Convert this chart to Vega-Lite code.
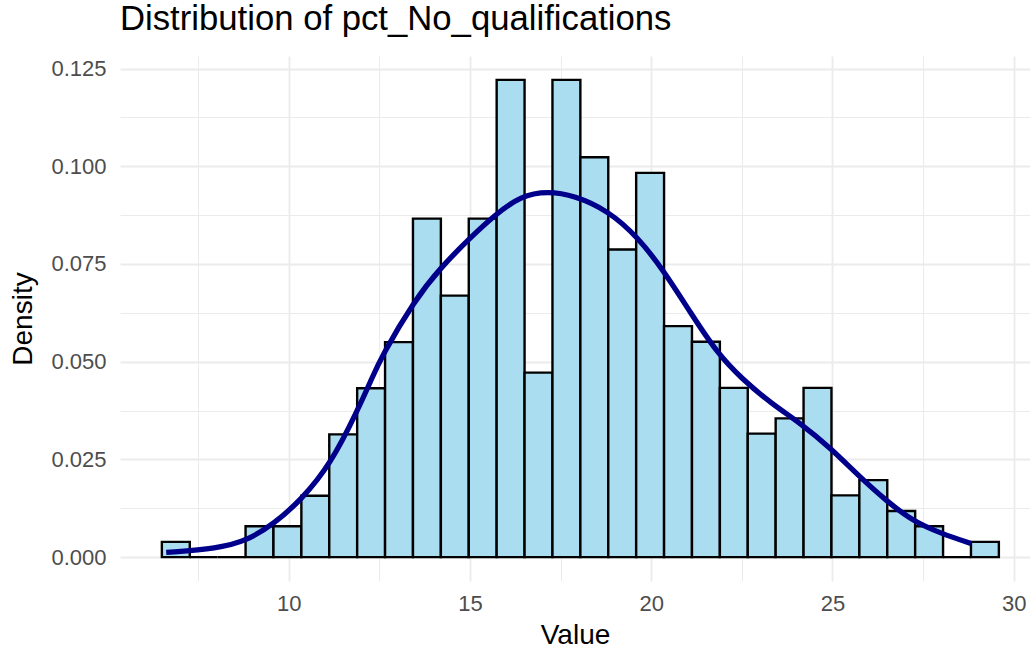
{
  "$schema": "https://vega.github.io/schema/vega-lite/v6.json",
  "width": 910,
  "height": 525,
  "autosize": {"type": "none"},
  "padding": {"left": 120, "top": 56, "right": 0, "bottom": 68},
  "background": "white",
  "title": {
    "text": "Distribution of pct_No_qualifications",
    "anchor": "start",
    "frame": "group",
    "fontSize": 34.7,
    "font": "Liberation Sans",
    "fontWeight": "normal",
    "color": "black",
    "baseline": "alphabetic",
    "offset": 22,
    "dy": 31
  },
  "config": {
    "view": {"stroke": null},
    "axis": {
      "domain": false,
      "ticks": false,
      "tickSize": 0,
      "labelFont": "Liberation Sans",
      "labelFontSize": 22,
      "labelColor": "#4D4D4D",
      "titleFont": "Liberation Sans",
      "titleFontSize": 28,
      "titleFontWeight": "normal",
      "titleColor": "black",
      "gridColor": "#EBEBEB"
    }
  },
  "datasets": {
    "bins": [
      {"bin_start": 6.5000, "bin_end": 7.2697, "density": 0.0039},
      {"bin_start": 7.2697, "bin_end": 8.0394, "density": 0},
      {"bin_start": 8.0394, "bin_end": 8.8091, "density": 0},
      {"bin_start": 8.8091, "bin_end": 9.5788, "density": 0.0079},
      {"bin_start": 9.5788, "bin_end": 10.3485, "density": 0.0079},
      {"bin_start": 10.3485, "bin_end": 11.1182, "density": 0.0157},
      {"bin_start": 11.1182, "bin_end": 11.8879, "density": 0.0314},
      {"bin_start": 11.8879, "bin_end": 12.6576, "density": 0.0432},
      {"bin_start": 12.6576, "bin_end": 13.4273, "density": 0.0550},
      {"bin_start": 13.4273, "bin_end": 14.1970, "density": 0.0866},
      {"bin_start": 14.1970, "bin_end": 14.9667, "density": 0.0669},
      {"bin_start": 14.9667, "bin_end": 15.7364, "density": 0.0866},
      {"bin_start": 15.7364, "bin_end": 16.5061, "density": 0.1221},
      {"bin_start": 16.5061, "bin_end": 17.2758, "density": 0.0472},
      {"bin_start": 17.2758, "bin_end": 18.0455, "density": 0.1221},
      {"bin_start": 18.0455, "bin_end": 18.8152, "density": 0.1023},
      {"bin_start": 18.8152, "bin_end": 19.5849, "density": 0.0787},
      {"bin_start": 19.5849, "bin_end": 20.3546, "density": 0.0983},
      {"bin_start": 20.3546, "bin_end": 21.1243, "density": 0.0591},
      {"bin_start": 21.1243, "bin_end": 21.8940, "density": 0.0551},
      {"bin_start": 21.8940, "bin_end": 22.6637, "density": 0.0433},
      {"bin_start": 22.6637, "bin_end": 23.4334, "density": 0.0316},
      {"bin_start": 23.4334, "bin_end": 24.2031, "density": 0.0355},
      {"bin_start": 24.2031, "bin_end": 24.9728, "density": 0.0433},
      {"bin_start": 24.9728, "bin_end": 25.7425, "density": 0.0158},
      {"bin_start": 25.7425, "bin_end": 26.5122, "density": 0.0197},
      {"bin_start": 26.5122, "bin_end": 27.2819, "density": 0.0118},
      {"bin_start": 27.2819, "bin_end": 28.0516, "density": 0.0079},
      {"bin_start": 28.0516, "bin_end": 28.8213, "density": 0},
      {"bin_start": 28.8213, "bin_end": 29.5910, "density": 0.0039}
    ],
    "curve": [
      {"value": 6.62, "density": 0.0012},
      {"value": 8.04, "density": 0.0022},
      {"value": 8.87, "density": 0.0043},
      {"value": 9.60, "density": 0.0086},
      {"value": 10.34, "density": 0.0146},
      {"value": 11.17, "density": 0.0240},
      {"value": 11.90, "density": 0.0376},
      {"value": 12.27, "density": 0.0452},
      {"value": 12.55, "density": 0.0512},
      {"value": 13.47, "density": 0.0657},
      {"value": 14.20, "density": 0.0742},
      {"value": 15.03, "density": 0.0819},
      {"value": 15.67, "density": 0.0874},
      {"value": 16.41, "density": 0.0925},
      {"value": 17.15, "density": 0.0936},
      {"value": 17.88, "density": 0.0925},
      {"value": 18.80, "density": 0.0887},
      {"value": 19.63, "density": 0.0819},
      {"value": 20.36, "density": 0.0731},
      {"value": 21.10, "density": 0.0623},
      {"value": 21.83, "density": 0.0521},
      {"value": 22.48, "density": 0.0458},
      {"value": 23.31, "density": 0.0393},
      {"value": 24.13, "density": 0.0342},
      {"value": 24.96, "density": 0.0278},
      {"value": 25.70, "density": 0.0210},
      {"value": 26.52, "density": 0.0141},
      {"value": 27.26, "density": 0.0090},
      {"value": 27.99, "density": 0.0061},
      {"value": 28.82, "density": 0.0035}
    ]
  },
  "layer": [
    {
      "data": {"name": "bins"},
      "mark": {"type": "rect", "fill": "#ABDDF1", "stroke": "black", "strokeWidth": 2.4},
      "encoding": {
        "x": {
          "field": "bin_start",
          "type": "quantitative",
          "scale": {"domain": [5.345, 30.45], "nice": false, "zero": false},
          "axis": {
            "title": "Value",
            "values": [7.5, 10, 12.5, 15, 17.5, 20, 22.5, 25, 27.5, 30],
            "labelExpr": "datum.value % 5 === 0 ? datum.label : ''",
            "labelPadding": 12,
            "titlePadding": 7,
            "gridWidth": {"condition": {"test": "datum.value % 5 === 0", "value": 1.8}, "value": 1.0}
          }
        },
        "x2": {"field": "bin_end"},
        "y": {
          "field": "density",
          "type": "quantitative",
          "scale": {"domain": [-0.0061, 0.1282], "nice": false, "zero": false},
          "axis": {
            "title": "Density",
            "values": [0, 0.0125, 0.025, 0.0375, 0.05, 0.0625, 0.075, 0.0875, 0.1, 0.1125, 0.125],
            "labelExpr": "round(datum.value * 10000) % 250 === 0 ? format(datum.value, '.3f') : ''",
            "labelPadding": 14,
            "titlePadding": 13,
            "gridWidth": {"condition": {"test": "round(datum.value * 10000) % 250 === 0", "value": 1.8}, "value": 1.0}
          }
        },
        "y2": {"datum": 0}
      }
    },
    {
      "data": {"name": "curve"},
      "mark": {"type": "line", "color": "#00008B", "strokeWidth": 5.3, "interpolate": "basis"},
      "encoding": {
        "x": {"field": "value", "type": "quantitative"},
        "y": {"field": "density", "type": "quantitative"}
      }
    }
  ]
}
